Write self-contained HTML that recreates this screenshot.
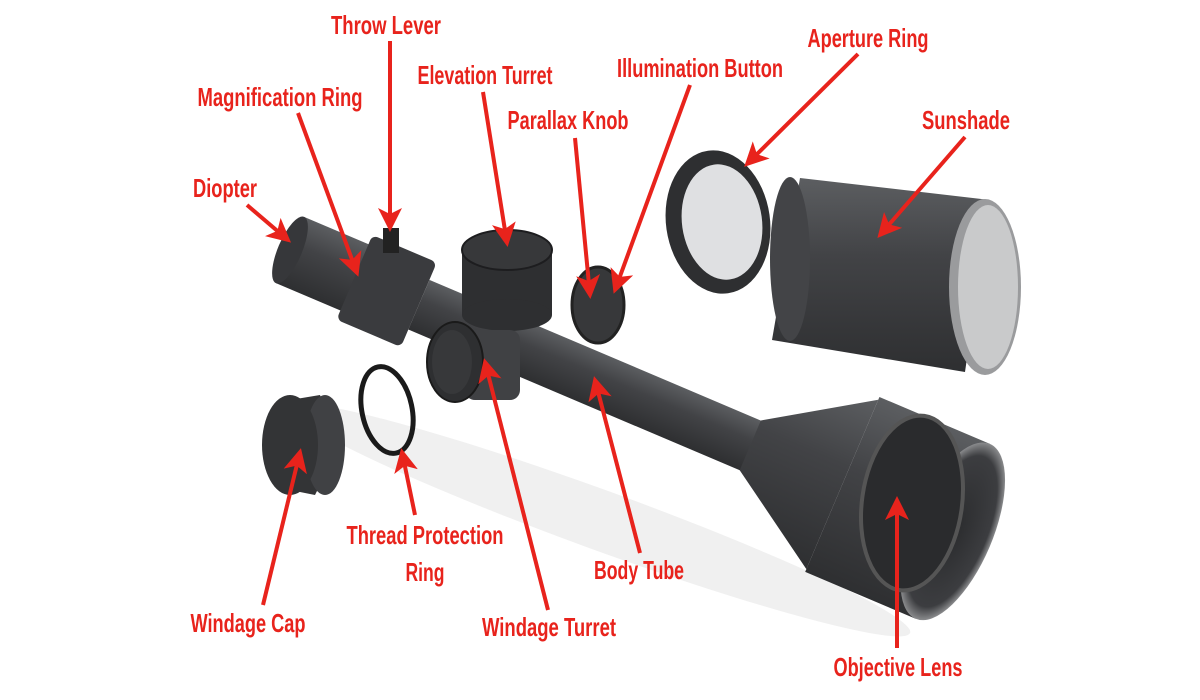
<!DOCTYPE html>
<html><head><meta charset="utf-8"><style>
html,body{margin:0;padding:0;background:#fff;width:1200px;height:700px;overflow:hidden}
svg{display:block}
text{font-family:"Liberation Sans",sans-serif;font-weight:bold;fill:#e8231c;font-size:26px;text-anchor:middle}
</style></head><body>
<svg width="1200" height="700" viewBox="0 0 1200 700">
<defs>
<marker id="a" markerWidth="6" markerHeight="6" refX="5" refY="3" orient="auto" markerUnits="strokeWidth"><path d="M0,0 L6,3 L0,6 L1.5,3z" fill="#e8231c"/></marker>
<linearGradient id="tg" x1="0" y1="0" x2="0" y2="1"><stop offset="0" stop-color="#5c5e61"/><stop offset=".4" stop-color="#424346"/><stop offset="1" stop-color="#2e2f31"/></linearGradient>
<radialGradient id="lens" cx=".5" cy=".5" r=".5"><stop offset="0" stop-color="#2a2b2d"/><stop offset=".85" stop-color="#3c3d40"/><stop offset="1" stop-color="#8a8b8d"/></radialGradient>
</defs>
<ellipse cx="600" cy="520" rx="330" ry="30" fill="#f0f0f0" transform="rotate(20 600 520)"/>
<path d="M800,178 L990,200 L965,372 L772,340 Z" fill="url(#tg)"/>
<ellipse cx="790" cy="259" rx="20" ry="82" fill="#434447"/>
<ellipse cx="985" cy="287" rx="36" ry="88" fill="#9a9b9d"/>
<ellipse cx="988" cy="287" rx="30" ry="82" fill="#c9cacb"/>
<ellipse cx="718" cy="222" rx="52" ry="72" transform="rotate(-8 718 222)" fill="#2e2f31"/>
<ellipse cx="722" cy="222" rx="40" ry="58" transform="rotate(-8 722 222)" fill="#dfe0e2"/>
<g transform="translate(290,250) rotate(23)">
<rect x="0" y="-36" width="80" height="72" fill="url(#tg)"/>
<ellipse cx="0" cy="0" rx="12" ry="36" fill="#36373a"/>
<rect x="70" y="-46" width="70" height="92" rx="6" fill="#3a3b3e"/>
<rect x="140" y="-27" width="370" height="54" fill="url(#tg)"/>
<path d="M500,-27 L600,-92 L600,92 L500,27Z" fill="url(#tg)"/>
<rect x="600" y="-95" width="120" height="190" fill="url(#tg)"/>
<ellipse cx="720" cy="0" rx="40" ry="95" fill="url(#lens)"/>
</g>
<ellipse cx="912" cy="503" rx="50" ry="88" transform="rotate(8 912 503)" fill="#2a2b2d" stroke="#555" stroke-width="4"/>
<rect x="383" y="228" width="16" height="25" fill="#222"/>
<rect x="462" y="250" width="90" height="65" fill="#2e2f31"/>
<ellipse cx="507" cy="315" rx="45" ry="16" fill="#2e2f31"/>
<ellipse cx="507" cy="250" rx="45" ry="20" fill="#37383a" stroke="#1d1d1f" stroke-width="2"/>
<ellipse cx="598" cy="305" rx="26" ry="38" fill="#37383a" stroke="#222" stroke-width="3"/>
<rect x="465" y="330" width="55" height="70" fill="#404144" rx="10"/>
<ellipse cx="455" cy="362" rx="28" ry="40" fill="#2e2f31" stroke="#1a1a1a" stroke-width="2"/>
<ellipse cx="452" cy="362" rx="20" ry="32" fill="#37383a"/>
<ellipse cx="387" cy="410" rx="25" ry="44" transform="rotate(-12 387 410)" fill="none" stroke="#1a1a1a" stroke-width="5"/>
<path d="M290,400 L320,395 L340,445 L315,495 L290,490Z" fill="#333436"/>
<ellipse cx="325" cy="445" rx="20" ry="50" fill="#404144"/>
<ellipse cx="290" cy="445" rx="28" ry="50" fill="#333436"/>
<g stroke="#e8231c" stroke-width="4" fill="none" marker-end="url(#a)">
<line x1="390" y1="41" x2="390" y2="228"/>
<line x1="298" y1="113" x2="357" y2="273"/>
<line x1="483" y1="92" x2="507" y2="243"/>
<line x1="690" y1="85" x2="615" y2="290"/>
<line x1="858" y1="54" x2="747" y2="164"/>
<line x1="575" y1="138" x2="590" y2="295"/>
<line x1="965" y1="137" x2="880" y2="235"/>
<line x1="247" y1="205" x2="288" y2="240"/>
<line x1="415" y1="515" x2="402" y2="452"/>
<line x1="640" y1="553" x2="595" y2="380"/>
<line x1="263" y1="605" x2="300" y2="452"/>
<line x1="548" y1="610" x2="485" y2="362"/>
<line x1="897" y1="648" x2="897" y2="500"/>
</g>
<g lengthAdjust="spacingAndGlyphs">
<text x="386" y="34" textLength="110" lengthAdjust="spacingAndGlyphs">Throw Lever</text>
<text x="280" y="106" textLength="165" lengthAdjust="spacingAndGlyphs">Magnification Ring</text>
<text x="485" y="84" textLength="135" lengthAdjust="spacingAndGlyphs">Elevation Turret</text>
<text x="700" y="77" textLength="166" lengthAdjust="spacingAndGlyphs">Illumination Button</text>
<text x="868" y="47" textLength="121" lengthAdjust="spacingAndGlyphs">Aperture Ring</text>
<text x="568" y="129" textLength="121" lengthAdjust="spacingAndGlyphs">Parallax Knob</text>
<text x="966" y="129" textLength="88" lengthAdjust="spacingAndGlyphs">Sunshade</text>
<text x="225" y="197" textLength="64" lengthAdjust="spacingAndGlyphs">Diopter</text>
<text x="425" y="544" textLength="157" lengthAdjust="spacingAndGlyphs">Thread Protection</text>
<text x="425" y="581" textLength="39" lengthAdjust="spacingAndGlyphs">Ring</text>
<text x="639" y="579" textLength="90" lengthAdjust="spacingAndGlyphs">Body Tube</text>
<text x="248" y="632" textLength="115" lengthAdjust="spacingAndGlyphs">Windage Cap</text>
<text x="549" y="636" textLength="134" lengthAdjust="spacingAndGlyphs">Windage Turret</text>
<text x="898" y="676" textLength="129" lengthAdjust="spacingAndGlyphs">Objective Lens</text>
</g>
</svg>
</body></html>
